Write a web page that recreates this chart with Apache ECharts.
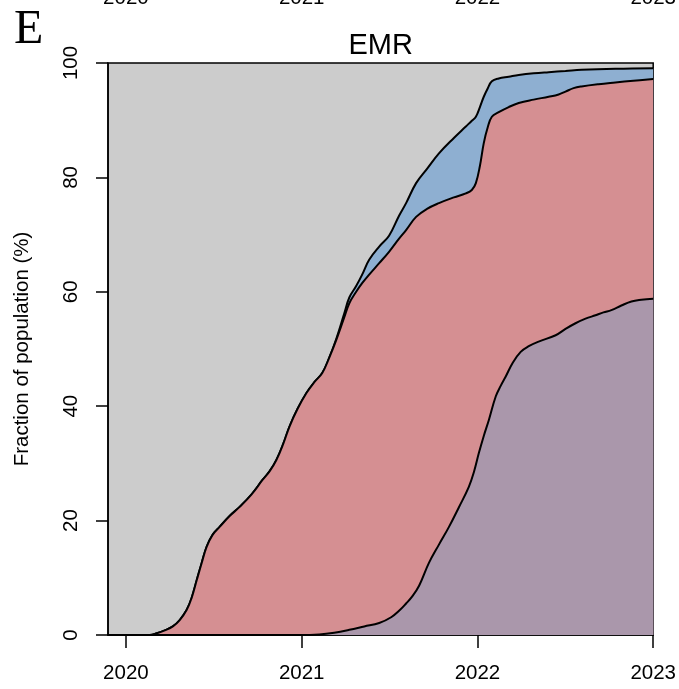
<!DOCTYPE html>
<html>
<head>
<meta charset="utf-8">
<script src="https://cdn.jsdelivr.net/npm/echarts@6/dist/echarts.min.js"></script>
<style>
html,body{margin:0;padding:0;background:#fff;}
#chart{width:679px;height:689px;}
</style>
</head>
<body>
<div id="chart"></div>
<script>
// Tick labels
const yearTicks = [2020, 2021, 2022, 2023];

// Upper boundary of the red band (% of population), x as decimal years
const redYears = [2019.898, 2020.136, 2020.176, 2020.221, 2020.267, 2020.306, 2020.346, 2020.374, 2020.403, 2020.431, 2020.459, 2020.493, 2020.533, 2020.590, 2020.647, 2020.715, 2020.777, 2020.817, 2020.856, 2020.896, 2020.930, 2020.976, 2021.027, 2021.072, 2021.117, 2021.157, 2021.197, 2021.242, 2021.271, 2021.310, 2021.344, 2021.384, 2021.441, 2021.497, 2021.554, 2021.594, 2021.651, 2021.713, 2021.781, 2021.866, 2021.934, 2021.968, 2021.991, 2022.014, 2022.036, 2022.059, 2022.082, 2022.121, 2022.178, 2022.235, 2022.320, 2022.405, 2022.462, 2022.501, 2022.547, 2022.592, 2022.689, 2022.785, 2022.887, 2023.0];
const redTop = [0, 0, 0.3, 0.8, 1.5, 2.6, 4.4, 6.5, 9.6, 12.6, 15.4, 17.5, 18.9, 20.8, 22.4, 24.6, 27.1, 28.6, 30.6, 33.5, 36.4, 39.5, 42.3, 44.2, 45.8, 48.5, 51.6, 55.5, 58.0, 60.0, 61.5, 63.0, 65.0, 67.0, 69.3, 70.8, 73.1, 74.5, 75.5, 76.5, 77.2, 77.8, 79.0, 82.0, 86.0, 88.8, 90.6, 91.4, 92.3, 93.0, 93.6, 94.1, 94.5, 95.0, 95.6, 95.9, 96.3, 96.6, 96.9, 97.2];

// Upper boundary of the blue band
const blueYears = [2019.898, 2020.136, 2020.176, 2020.221, 2020.267, 2020.306, 2020.346, 2020.374, 2020.403, 2020.431, 2020.459, 2020.493, 2020.533, 2020.590, 2020.647, 2020.715, 2020.777, 2020.817, 2020.856, 2020.896, 2020.930, 2020.976, 2021.027, 2021.072, 2021.117, 2021.157, 2021.197, 2021.242, 2021.271, 2021.310, 2021.344, 2021.384, 2021.441, 2021.497, 2021.554, 2021.594, 2021.651, 2021.713, 2021.781, 2021.866, 2021.934, 2021.968, 2021.991, 2022.014, 2022.036, 2022.059, 2022.082, 2022.121, 2022.178, 2022.235, 2022.320, 2022.405, 2022.501, 2022.592, 2022.785, 2023.0];
const blueTop = [0, 0, 0.3, 0.8, 1.5, 2.6, 4.4, 6.5, 9.6, 12.6, 15.4, 17.5, 18.9, 20.8, 22.4, 24.6, 27.1, 28.6, 30.6, 33.5, 36.4, 39.5, 42.3, 44.2, 45.8, 48.5, 51.8, 56.2, 59.0, 61.0, 63.0, 65.6, 67.9, 69.8, 73.3, 75.5, 79.0, 81.5, 84.2, 86.9, 88.9, 89.9, 90.6, 92.3, 94.1, 95.6, 96.8, 97.3, 97.6, 97.9, 98.2, 98.4, 98.6, 98.8, 99.0, 99.1];

// Upper boundary of the purple band
const purpleYears = [2019.898, 2020.987, 2021.100, 2021.185, 2021.271, 2021.356, 2021.441, 2021.509, 2021.560, 2021.594, 2021.628, 2021.668, 2021.724, 2021.781, 2021.838, 2021.894, 2021.951, 2021.980, 2022.008, 2022.036, 2022.065, 2022.104, 2022.133, 2022.161, 2022.201, 2022.246, 2022.292, 2022.348, 2022.445, 2022.501, 2022.558, 2022.615, 2022.672, 2022.717, 2022.762, 2022.819, 2022.876, 2022.932, 2023.0];
const purpleTop = [0, 0, 0.1, 0.4, 0.9, 1.5, 2.1, 3.1, 4.4, 5.5, 6.7, 8.6, 12.6, 15.8, 18.9, 22.3, 25.9, 28.5, 31.8, 34.8, 37.6, 41.7, 43.6, 45.2, 47.6, 49.5, 50.5, 51.3, 52.4, 53.5, 54.5, 55.3, 55.9, 56.4, 56.8, 57.6, 58.3, 58.6, 58.8];

const xMin = 2019.898, xMax = 2023.0;

function pairs(xs, ys) { return xs.map((x, i) => [x, ys[i]]); }

const chart = echarts.init(document.getElementById('chart'));
const FONT = '"Liberation Sans", Arial, Helvetica, sans-serif';
const FS = 20.5;
const lineStyle = { color: '#000', width: 2 };

chart.setOption({
  animation: false,
  backgroundColor: '#ffffff',
  grid: {
    left: 108, right: 24, top: 63, bottom: 54,
    show: true, backgroundColor: '#CCCCCC', borderColor: '#000', borderWidth: 1.5
  },
  xAxis: {
    type: 'value', min: xMin, max: xMax,
    axisLine: { show: true, onZero: false, lineStyle: { color: '#000', width: 1.5 } },
    axisTick: { show: true, length: 13, customValues: yearTicks, lineStyle: { color: '#000', width: 1.5 } },
    axisLabel: { customValues: yearTicks, margin: 28, color: '#000', fontFamily: FONT, fontSize: FS, formatter: v => String(v) },
    splitLine: { show: false }
  },
  yAxis: {
    type: 'value', min: 0, max: 100, interval: 20,
    name: 'Fraction of population (%)', nameLocation: 'middle', nameGap: 75, nameRotate: 90,
    nameTextStyle: { fontFamily: FONT, fontSize: FS, color: '#000' },
    axisLine: { show: true, lineStyle: { color: '#000', width: 1.5 } },
    axisTick: { show: true, length: 12, lineStyle: { color: '#000', width: 1.5 } },
    axisLabel: { rotate: 90, margin: 26, color: '#000', fontFamily: FONT, fontSize: FS },
    splitLine: { show: false }
  },
  series: [
    { type: 'line', name: 'blue', data: pairs(blueYears, blueTop), smooth: 0.4,
      showSymbol: false, lineStyle, areaStyle: { color: '#8EAFD1', opacity: 1 }, z: 2 },
    { type: 'line', name: 'red', data: pairs(redYears, redTop), smooth: 0.4,
      showSymbol: false, lineStyle, areaStyle: { color: '#D58F92', opacity: 1 }, z: 3 },
    { type: 'line', name: 'purple', data: pairs(purpleYears, purpleTop), smooth: 0.4,
      showSymbol: false, lineStyle, areaStyle: { color: '#AA97AB', opacity: 1 }, z: 4 }
  ]
});

// Panel letter, title, and clipped year labels from the panel above
const cx = (chart.convertToPixel({ xAxisIndex: 0 }, xMin) + chart.convertToPixel({ xAxisIndex: 0 }, xMax)) / 2;
const graphics = [
  { type: 'text', left: 14, top: 6,
    style: { text: 'E', font: '48px "Liberation Serif", "Times New Roman", serif', fill: '#000' } },
  { type: 'text', x: cx, y: 46,
    style: { text: 'EMR', font: '29px ' + FONT, fill: '#000', align: 'center', verticalAlign: 'middle' } }
];
yearTicks.forEach(y => {
  const px = chart.convertToPixel({ xAxisIndex: 0 }, y);
  graphics.push({
    type: 'text', x: px, y: -2,
    style: { text: String(y), font: FS + 'px ' + FONT, fill: '#000', align: 'center', verticalAlign: 'middle' }
  });
});
chart.setOption({ graphic: graphics });
</script>
</body>
</html>
